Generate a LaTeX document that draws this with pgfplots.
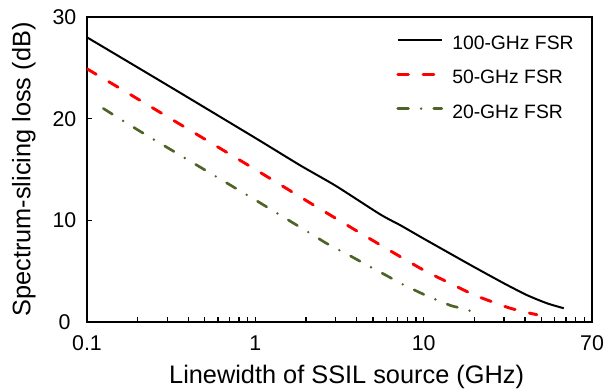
\documentclass[border=0pt]{standalone}
\usepackage{pgfplots}
\pgfplotsset{compat=1.18}
\usepackage{fontspec}
\setmainfont{Liberation Sans}
\definecolor{olivegreen}{HTML}{4F6228}
\begin{document}
\begin{tikzpicture}[x=0.75pt,y=0.75pt]
\path[use as bounding box] (-87,-69) rectangle (519,322);
\begin{axis}[
  at={(0,0)}, anchor=south west,
  scale only axis, width=378.75pt, height=228.75pt,
  xmode=log, xmin=0.1, xmax=100, ymin=0, ymax=30,
  xtick={0.1,1,10,100}, xticklabels={0.1,1,10,70},
  ytick={0,10,20,30},
  xtick pos=bottom, ytick pos=left,
  tick align=inside,
  major tick length=4pt, minor tick length=3.8pt,
  every tick/.style={black, line width=1.1pt},
  axis line style={line width=1.7pt},
  /pgf/number format/assume math mode=true,
  tick label style={font=\fontsize{16}{16}\selectfont},
  xticklabel style={anchor=center, yshift=-16pt},
  yticklabel style={anchor=center, xshift=-16.9pt},
  xlabel={Linewidth of SSIL source (GHz)},
  ylabel={Spectrum-slicing loss (dB)},
  label style={font=\fontsize{19}{19}\selectfont},
  xlabel style={at={(axis description cs:0.514,-0.18)}, anchor=center},
  ylabel style={at={(axis description cs:-0.125,0.5)}, anchor=center},
  legend style={at={(rel axis cs:0.612,0.955)}, anchor=north west, draw=none, fill=none,
    font=\fontsize{14.5}{15}\selectfont, row sep=8.75pt, inner sep=0pt,
    nodes={inner sep=0pt, text height=10.5pt, text depth=3pt}},
  legend cell align=left,
  legend image code/.code={\draw[#1] (0pt,3.5pt) -- (33pt,3.5pt) node[right, inner sep=0pt, minimum width=6.75pt] {};},
]
\addplot[black, line width=1.5pt, smooth, tension=0.4] coordinates {
(0.1,28.0) (0.3,23.3) (1,18.1) (1.85,15.4) (3,13.4) (5.5,10.6) (7.3,9.5) (10,8.2)
(19,5.6) (30,3.8) (41,2.65) (54,1.84) (68,1.35)};
\addlegendentry{100-GHz FSR}
\addplot[red, line width=2.2pt, line cap=round, dash pattern=on 8pt off 11pt, smooth, tension=0.4] coordinates {
(0.1,24.9) (0.184,22.3) (1,15.0) (2.22,11.5) (5.5,7.6) (10,5.1) (14.4,3.8) (20,2.65)
(27.4,1.8) (32,1.4) (39.4,1.0) (47,0.72)};
\addlegendentry{50-GHz FSR}
\addplot[olivegreen, line width=2pt, line cap=round, dash pattern=on 8pt off 9.5pt on 0pt off 9.5pt, smooth, tension=0.4] coordinates {
(0.125,21.0) (0.2,18.9) (0.33,16.75) (1,12.0) (1.41,10.5) (2.28,8.4) (2.67,7.7)
(3.76,6.4) (4.41,5.77) (6.2,4.45) (7.3,3.8) (10.2,2.65) (12,2.16) (14.6,1.6) (17.3,1.3) (20.8,0.85)};
\addlegendentry{20-GHz FSR}
\end{axis}
\end{tikzpicture}
\end{document}
